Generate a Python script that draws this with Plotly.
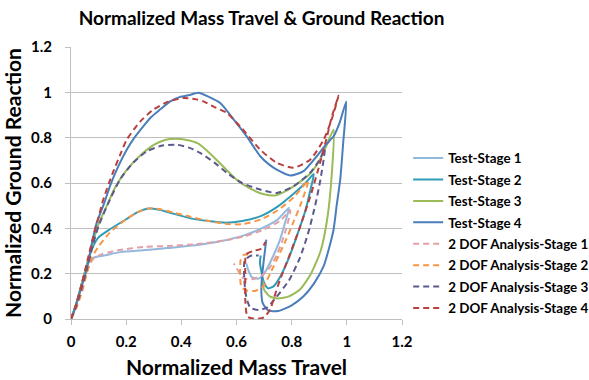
import plotly.graph_objects as go

# ---- data ----
names = ["Test-Stage 1", "Test-Stage 2", "Test-Stage 3", "Test-Stage 4",
         "2 DOF Analysis-Stage 1", "2 DOF Analysis-Stage 2",
         "2 DOF Analysis-Stage 3", "2 DOF Analysis-Stage 4"]

t1_x = [0, 0.02, 0.04, 0.06, 0.08, 0.12, 0.18, 0.26, 0.35, 0.45, 0.55, 0.63, 0.70, 0.75, 0.79,
        0.775, 0.755, 0.73, 0.705, 0.68, 0.655, 0.643, 0.636]
t1_y = [0, 0.07, 0.16, 0.24, 0.27, 0.28, 0.295, 0.303, 0.313, 0.325, 0.345, 0.37, 0.405, 0.44, 0.49,
        0.42, 0.34, 0.27, 0.21, 0.178, 0.185, 0.215, 0.245]

t2_x = [0, 0.02, 0.04, 0.06, 0.08, 0.10, 0.14, 0.20, 0.24, 0.28, 0.32, 0.37, 0.43, 0.50, 0.56, 0.62,
        0.69, 0.75, 0.81, 0.85, 0.88,
        0.87, 0.85, 0.82, 0.79, 0.76, 0.735, 0.715, 0.70, 0.69, 0.685, 0.688]
t2_y = [0, 0.07, 0.16, 0.25, 0.32, 0.36, 0.395, 0.44, 0.47, 0.487, 0.482, 0.465, 0.445, 0.432, 0.425, 0.432,
        0.455, 0.497, 0.556, 0.60, 0.64,
        0.58, 0.48, 0.37, 0.27, 0.19, 0.145, 0.135, 0.16, 0.21, 0.25, 0.28]

t3_x = [0, 0.02, 0.04, 0.06, 0.08, 0.10, 0.13, 0.16, 0.20, 0.25, 0.30, 0.34, 0.38, 0.42, 0.46, 0.50,
        0.55, 0.60, 0.65, 0.70, 0.74, 0.78, 0.83, 0.87, 0.91, 0.952,
        0.946, 0.93, 0.905, 0.87, 0.83, 0.79, 0.75, 0.72, 0.70, 0.695]
t3_y = [0, 0.07, 0.16, 0.25, 0.34, 0.42, 0.50, 0.58, 0.655, 0.72, 0.768, 0.79, 0.795, 0.79, 0.775, 0.735,
        0.675, 0.615, 0.575, 0.55, 0.545, 0.565, 0.605, 0.645, 0.72, 0.835,
        0.65, 0.45, 0.30, 0.20, 0.13, 0.10, 0.09, 0.10, 0.13, 0.17]

t4_x = [0, 0.01, 0.03, 0.057, 0.075, 0.093, 0.12, 0.141, 0.17, 0.202, 0.23, 0.262, 0.29, 0.323, 0.36,
        0.395, 0.43, 0.462, 0.50, 0.541, 0.59, 0.637, 0.686, 0.72, 0.746, 0.795, 0.843, 0.891, 0.925,
        0.952, 0.975, 0.998,
        0.987, 0.976, 0.963, 0.952, 0.935, 0.916, 0.88, 0.843, 0.80, 0.75, 0.715, 0.695, 0.69, 0.692,
        0.698, 0.703, 0.708]
t4_y = [0, 0.03, 0.11, 0.218, 0.33, 0.424, 0.51, 0.585, 0.67, 0.747, 0.80, 0.85, 0.89, 0.924, 0.96,
        0.98, 0.988, 0.998, 0.98, 0.953, 0.88, 0.806, 0.718, 0.68, 0.659, 0.633, 0.652, 0.718, 0.77,
        0.806, 0.87, 0.96,
        0.78, 0.615, 0.50, 0.395, 0.31, 0.233, 0.155, 0.10, 0.06, 0.035, 0.038, 0.07, 0.12, 0.18,
        0.25, 0.30, 0.35]

d1_x = [0, 0.02, 0.04, 0.06, 0.08, 0.11, 0.166, 0.262, 0.35, 0.45, 0.55, 0.63, 0.70, 0.76, 0.795,
        0.785, 0.765, 0.745, 0.72, 0.69, 0.655, 0.625, 0.605, 0.59]
d1_y = [0, 0.06, 0.14, 0.22, 0.265, 0.285, 0.302, 0.318, 0.322, 0.33, 0.345, 0.365, 0.395, 0.435, 0.48,
        0.42, 0.34, 0.28, 0.225, 0.19, 0.175, 0.18, 0.215, 0.245]

d2_x = [0, 0.02, 0.04, 0.057, 0.075, 0.10, 0.14, 0.20, 0.24, 0.28, 0.32, 0.37, 0.43, 0.50, 0.56, 0.62,
        0.69, 0.75, 0.81, 0.86,
        0.831, 0.807, 0.78, 0.758, 0.722, 0.698, 0.67, 0.64, 0.618, 0.613, 0.615, 0.625, 0.645]
d2_y = [0, 0.05, 0.12, 0.20, 0.27, 0.32, 0.38, 0.44, 0.47, 0.488, 0.485, 0.47, 0.452, 0.432, 0.42, 0.418,
        0.44, 0.48, 0.54, 0.61,
        0.50, 0.43, 0.35, 0.293, 0.20, 0.145, 0.125, 0.125, 0.14, 0.20, 0.26, 0.283, 0.285]

d3_x = [0, 0.02, 0.04, 0.06, 0.08, 0.10, 0.141, 0.18, 0.226, 0.275, 0.33, 0.383, 0.43, 0.468, 0.52,
        0.565, 0.62, 0.686, 0.746, 0.807, 0.867, 0.90, 0.92,
        0.905, 0.885, 0.86, 0.83, 0.79, 0.74, 0.71, 0.68, 0.65, 0.635, 0.628, 0.63, 0.655, 0.68]
d3_y = [0, 0.06, 0.14, 0.23, 0.33, 0.41, 0.527, 0.62, 0.69, 0.74, 0.765, 0.769, 0.755, 0.733, 0.69,
        0.645, 0.60, 0.571, 0.556, 0.586, 0.645, 0.70, 0.75,
        0.62, 0.50, 0.38, 0.27, 0.17, 0.09, 0.05, 0.04, 0.05, 0.10, 0.18, 0.26, 0.28, 0.28]

d4_x = [0, 0.02, 0.04, 0.06, 0.08, 0.10, 0.117, 0.15, 0.18, 0.202, 0.25, 0.299, 0.35, 0.408, 0.45,
        0.48, 0.52, 0.565, 0.62, 0.686, 0.746, 0.807, 0.867, 0.916, 0.945, 0.97,
        0.946, 0.925, 0.903, 0.87, 0.831, 0.795, 0.758, 0.735, 0.722, 0.70, 0.67, 0.64, 0.632, 0.632,
        0.635, 0.66, 0.69, 0.705]
d4_y = [0, 0.07, 0.16, 0.26, 0.36, 0.45, 0.527, 0.64, 0.73, 0.791, 0.87, 0.924, 0.958, 0.975, 0.97,
        0.96, 0.935, 0.909, 0.84, 0.747, 0.689, 0.667, 0.703, 0.791, 0.88, 0.985,
        0.894, 0.79, 0.689, 0.55, 0.409, 0.29, 0.174, 0.09, 0.042, 0.008, 0.0, 0.01, 0.08, 0.18,
        0.285, 0.30, 0.31, 0.34]

xs = [t1_x, t2_x, t3_x, t4_x, d1_x, d2_x, d3_x, d4_x]
ys = [t1_y, t2_y, t3_y, t4_y, d1_y, d2_y, d3_y, d4_y]

colors = ["#93B8DD", "#2E9CB8", "#9BBB59", "#4A7EBB",
          "#E2A0A6", "#F79646", "#5B5A8E", "#B8403E"]
dashes = ["solid"] * 4 + ["6px,4px"] * 4

tick_vals = [0, 0.2, 0.4, 0.6, 0.8, 1, 1.2]
tick_text = ["0", "0.2", "0.4", "0.6", "0.8", "1", "1.2"]

FONT = "Lato, Open Sans, sans-serif"

fig = go.Figure()
for i in range(8):
    fig.add_trace(go.Scatter(
        x=xs[i], y=ys[i], name=names[i], mode="lines",
        legendgroup=f"g{i}",
        line=dict(color=colors[i], width=2, dash=dashes[i], shape="spline", smoothing=0.6),
    ))

fig.update_layout(
    width=589, height=380,
    margin=dict(l=71, r=187, t=47, b=61, autoexpand=False),
    paper_bgcolor="white", plot_bgcolor="white",
    title=dict(text="Normalized Mass Travel & Ground Reaction",
               x=0.444, xref="container", xanchor="center",
               y=0.952, yanchor="middle",
               font=dict(family=FONT, size=19, color="black", weight="bold")),
    xaxis=dict(range=[0, 1.2], tickvals=tick_vals, ticktext=tick_text,
               showgrid=False, zeroline=False, showline=True, linecolor="#BFBFBF", linewidth=1,
               ticks="outside", ticklen=5, tickcolor="#BFBFBF", ticklabelstandoff=4,
               tickfont=dict(family=FONT, size=15, color="black", weight="bold"),
               title=dict(text="Normalized Mass Travel", standoff=11,
                          font=dict(family=FONT, size=21, color="black", weight="bold"))),
    yaxis=dict(range=[0, 1.2], tickvals=tick_vals, ticktext=tick_text,
               showgrid=True, gridcolor="#BFBFBF", gridwidth=1, zeroline=False,
               showline=True, linecolor="#BFBFBF", linewidth=1,
               ticks="outside", ticklen=5, tickcolor="#BFBFBF", ticklabelstandoff=10,
               tickfont=dict(family=FONT, size=15, color="black", weight="bold"),
               title=dict(text="Normalized Ground Reaction", standoff=6,
                          font=dict(family=FONT, size=21, color="black", weight="bold"))),
    legend=dict(xref="container", yref="container", x=0.693, xanchor="left", y=0.624, yanchor="top",
                font=dict(family=FONT, size=13.4, color="black", weight="bold"),
                tracegroupgap=1, bgcolor="rgba(0,0,0,0)"),
    showlegend=True,
)

fig.write_html("out.html")
